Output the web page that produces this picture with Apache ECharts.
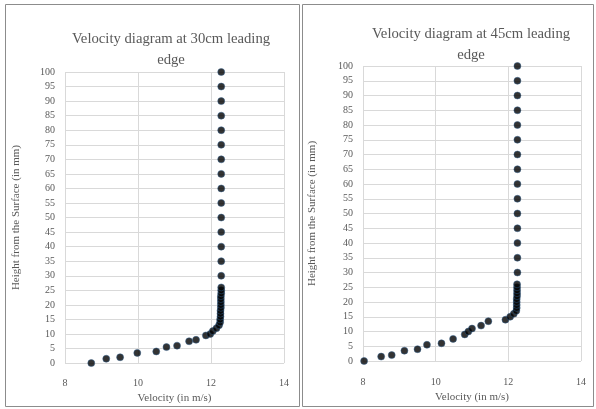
<!DOCTYPE html>
<html>
<head>
<meta charset="utf-8">
<script src="https://cdn.jsdelivr.net/npm/echarts@6/dist/echarts.min.js"></script>
<style>html,body{margin:0;padding:0;background:#fff}#c{width:596px;height:409px}</style>
</head>
<body>
<div id="c"></div>
<script>
// Left chart: 30cm leading edge
const leftX = [8.72, 9.13, 9.51, 9.98, 10.50, 10.78, 11.07, 11.40, 11.59, 11.86, 11.98, 12.05, 12.15, 12.22,
  12.25, 12.25, 12.26, 12.26, 12.26, 12.27, 12.27, 12.27, 12.27, 12.27, 12.28, 12.28, 12.28,
  12.28, 12.28, 12.28, 12.28, 12.28, 12.28, 12.28, 12.28, 12.28, 12.28, 12.28, 12.28, 12.28, 12.28, 12.28];
const leftY = [0, 1.5, 2, 3.5, 4, 5.5, 6, 7.5, 8, 9.5, 10, 11, 12, 13,
  14, 15, 16, 17, 18, 19, 20, 21, 22, 23, 24, 25, 26,
  30, 35, 40, 45, 50, 55, 60, 65, 70, 75, 80, 85, 90, 95, 100];
// Right chart: 45cm leading edge
const rightX = [8.03, 8.50, 8.79, 9.14, 9.50, 9.76, 10.16, 10.48, 10.80, 10.90, 11.00, 11.25, 11.45, 11.92, 12.05, 12.15, 12.22,
  12.23, 12.23, 12.23, 12.23, 12.24, 12.24, 12.24, 12.24, 12.24,
  12.25, 12.25, 12.25, 12.25, 12.25, 12.25, 12.25, 12.25, 12.25, 12.25, 12.25, 12.25, 12.25, 12.25, 12.25];
const rightY = [0, 1.5, 2, 3.5, 4, 5.5, 6, 7.5, 9, 10, 11, 12, 13.5, 14, 15, 16, 17,
  18, 19, 20, 21, 22, 23, 24, 25, 26,
  30, 35, 40, 45, 50, 55, 60, 65, 70, 75, 80, 85, 90, 95, 100];
const titles = ['Velocity diagram at 30cm leading\nedge', 'Velocity diagram at 45cm leading\nedge'];
const xName = 'Velocity (in m/s)';
const yName = 'Height from the Surface (in mm)';

const font = '"Liberation Serif", "DejaVu Serif", serif';
const txt = '#595959';
const grid = '#d9d9d9';

function pairs(xs, ys) { return xs.map((x, i) => [x, ys[i]]); }

function xAxis(gi, margin, gap) {
  return {
    gridIndex: gi, type: 'value', min: 8, max: 14, interval: 2,
    name: xName, nameLocation: 'middle', nameGap: gap,
    nameTextStyle: { fontFamily: font, fontSize: 11, color: txt },
    axisLine: { show: false }, axisTick: { show: false },
    axisLabel: { fontFamily: font, fontSize: 10, color: txt, margin: margin },
    splitLine: { show: true, lineStyle: { color: grid, width: 1 } }
  };
}
function yAxis(gi, gap) {
  return {
    gridIndex: gi, type: 'value', min: 0, max: 100, interval: 5,
    name: yName, nameLocation: 'middle', nameGap: gap,
    nameTextStyle: { fontFamily: font, fontSize: 11, color: txt },
    axisLine: { show: false }, axisTick: { show: false },
    axisLabel: { fontFamily: font, fontSize: 10, color: txt, margin: 10 },
    splitLine: { show: true, lineStyle: { color: grid, width: 1 } }
  };
}
const markerStyle = { color: '#000', borderColor: '#2f5f8f', borderWidth: 0.6 };

const chart = echarts.init(document.getElementById('c'), null, { renderer: 'canvas' });
chart.setOption({
  backgroundColor: '#fff',
  animation: false,
  title: [
    { text: titles[0], left: 166, top: 24, textAlign: 'center',
      textStyle: { fontFamily: font, fontSize: 14.7, fontWeight: 'normal', color: txt, lineHeight: 21 } },
    { text: titles[1], left: 466, top: 19, textAlign: 'center',
      textStyle: { fontFamily: font, fontSize: 14.7, fontWeight: 'normal', color: txt, lineHeight: 21 } }
  ],
  grid: [
    { left: 65, top: 72, width: 219, height: 294 },
    { left: 363, top: 66, width: 218, height: 295 }
  ],
  xAxis: [xAxis(0, 15, 25), xAxis(1, 16, 29)],
  yAxis: [yAxis(0, 43), yAxis(1, 45)],
  series: [
    { type: 'scatter', xAxisIndex: 0, yAxisIndex: 0, symbolSize: 7, itemStyle: markerStyle, data: pairs(leftX, leftY) },
    { type: 'scatter', xAxisIndex: 1, yAxisIndex: 1, symbolSize: 7, itemStyle: markerStyle, data: pairs(rightX, rightY) }
  ],
  graphic: [
    { type: 'rect', shape: { x: 5.5, y: 4.5, width: 294, height: 402 }, style: { fill: 'none', stroke: '#8c8c8c', lineWidth: 1 }, silent: true },
    { type: 'rect', shape: { x: 302.5, y: 4.5, width: 291, height: 402 }, style: { fill: 'none', stroke: '#8c8c8c', lineWidth: 1 }, silent: true }
  ]
});
</script>
</body>
</html>
